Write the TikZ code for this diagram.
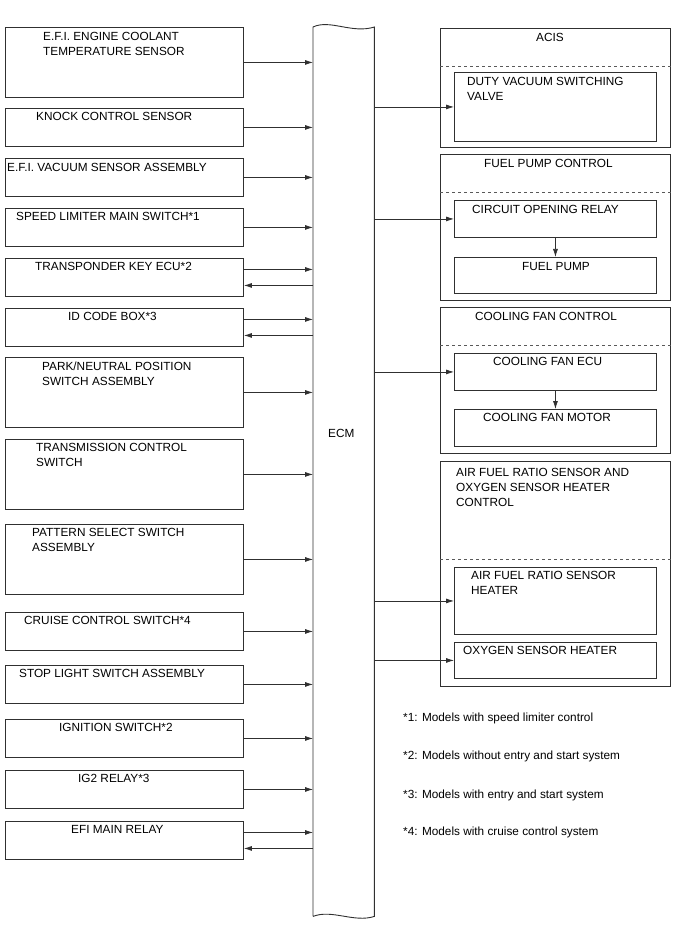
\documentclass[tikz,border=0pt]{standalone}
\usepackage{fontspec}
\setmainfont{Liberation Sans}
\usetikzlibrary{arrows.meta}
\definecolor{ECMLine}{HTML}{303030}

\tikzset{
  blk/.style={draw=ECMLine,line width=.9pt,inner sep=0,anchor=north west},
  inblk/.style={blk,minimum width=238pt},
  outblk/.style={blk,minimum width=230pt},
  subblk/.style={blk,minimum width=202pt},
  lbl/.style={anchor=north west,inner sep=0,align=left,font=\fontsize{11.8}{14.8}\selectfont},
  sig/.style={-{Latex[length=8pt,width=5pt]},line width=.75pt,draw=ECMLine},
  sep/.style={dashed,line width=.6pt,draw=ECMLine!80}
}

\begin{document}
\begin{tikzpicture}[x=1pt,y=-1pt]
\useasboundingbox (0,0) rectangle (688,949);
% ECM column
\node[draw=none,inner sep=0,anchor=north west,minimum width=61pt,minimum height=889pt] (ecm) at (313,27) {};
\draw[draw=ECMLine,line width=.9pt] (ecm.south west) -- (ecm.north west)
  .. controls (330,19) and (352,34) .. (ecm.north east) -- (ecm.south east)
  .. controls (354,923) and (332,909) .. (ecm.south west);
\node[lbl,anchor=west] (ecm-t) at (328,433) {ECM};

% inputs
\node[inblk,minimum height=70pt] (ect) at (5,27) {};
\node[lbl] (ect-t) at (43,32) {E.F.I. ENGINE COOLANT\\ TEMPERATURE SENSOR};
\node[inblk,minimum height=38pt] (kcs) at (5,108) {};
\node[lbl] (kcs-t) at (36,112) {KNOCK CONTROL SENSOR};
\node[inblk,minimum height=38pt] (vsa) at (5,158) {};
\node[lbl] (vsa-t) at (7,163) {E.F.I. VACUUM SENSOR ASSEMBLY};
\node[inblk,minimum height=38pt] (slm) at (5,208) {};
\node[lbl] (slm-t) at (16,212) {SPEED LIMITER MAIN SWITCH*1};
\node[inblk,minimum height=38pt] (tkey) at (5,258) {};
\node[lbl] (tkey-t) at (35,262) {TRANSPONDER KEY ECU*2};
\node[inblk,minimum height=38pt] (idb) at (5,308) {};
\node[lbl] (idb-t) at (68,312) {ID CODE BOX*3};
\node[inblk,minimum height=70pt] (pnp) at (5,357) {};
\node[lbl] (pnp-t) at (42,362) {PARK/NEUTRAL POSITION\\ SWITCH ASSEMBLY};
\node[inblk,minimum height=70pt] (tcs) at (5,439) {};
\node[lbl] (tcs-t) at (36,443) {TRANSMISSION CONTROL\\ SWITCH};
\node[inblk,minimum height=70pt] (pss) at (5,524) {};
\node[lbl] (pss-t) at (32,528) {PATTERN SELECT SWITCH\\ ASSEMBLY};
\node[inblk,minimum height=38pt] (ccs) at (5,612) {};
\node[lbl] (ccs-t) at (24,616) {CRUISE CONTROL SWITCH*4};
\node[inblk,minimum height=38pt] (sls) at (5,665) {};
\node[lbl] (sls-t) at (19,669) {STOP LIGHT SWITCH ASSEMBLY};
\node[inblk,minimum height=38pt] (igsw) at (5,719) {};
\node[lbl] (igsw-t) at (59,723) {IGNITION SWITCH*2};
\node[inblk,minimum height=38pt] (ig2) at (5,770) {};
\node[lbl] (ig2-t) at (78,774) {IG2 RELAY*3};
\node[inblk,minimum height=38pt] (efi) at (5,821) {};
\node[lbl] (efi-t) at (71,825) {EFI MAIN RELAY};

% input signals
\foreach \n in {ect,kcs,vsa,slm,pnp,tcs,pss,ccs,sls,igsw,ig2}
  \draw[sig] (\n.east) -- (\n.east -| ecm.west);
\foreach \n in {tkey,idb,efi}{
  \draw[sig] ([yshift=8pt]\n.east) -- ([yshift=8pt]\n.east -| ecm.west);
  \draw[sig] ([yshift=-8pt]\n.east -| ecm.west) -- ([yshift=-8pt]\n.east);
}

% outputs
\node[outblk,minimum height=119pt] (acis) at (440,28) {};
\node[lbl] (acis-t) at (536,33) {ACIS};
\draw[sep] (acis.west |- 0,66) -- (acis.east |- 0,66);
\node[subblk,minimum height=69pt] (dvsv) at (454,72) {};
\node[lbl] (dvsv-t) at (467,77) {DUTY VACUUM SWITCHING\\ VALVE};

\node[outblk,minimum height=146pt] (fpc) at (440,154) {};
\node[lbl] (fpc-t) at (484,159) {FUEL PUMP CONTROL};
\draw[sep] (fpc.west |- 0,192) -- (fpc.east |- 0,192);
\node[subblk,minimum height=37pt] (cor) at (454,200) {};
\node[lbl] (cor-t) at (472,205) {CIRCUIT OPENING RELAY};
\node[subblk,minimum height=36pt] (fp) at (454,257) {};
\node[lbl] (fp-t) at (522,262) {FUEL PUMP};

\node[outblk,minimum height=146pt] (cfc) at (440,307) {};
\node[lbl] (cfc-t) at (475,312) {COOLING FAN CONTROL};
\draw[sep] (cfc.west |- 0,345) -- (cfc.east |- 0,345);
\node[subblk,minimum height=37pt] (cfe) at (454,353) {};
\node[lbl] (cfe-t) at (493,357) {COOLING FAN ECU};
\node[subblk,minimum height=37pt] (cfm) at (454,409) {};
\node[lbl] (cfm-t) at (483,413) {COOLING FAN MOTOR};

\node[outblk,minimum height=225pt] (afc) at (440,461) {};
\node[lbl] (afc-t) at (456,468) {AIR FUEL RATIO SENSOR AND\\ OXYGEN SENSOR HEATER\\ CONTROL};
\draw[sep] (afc.west |- 0,559) -- (afc.east |- 0,559);
\node[subblk,minimum height=67pt] (afh) at (454,567) {};
\node[lbl] (afh-t) at (471,571) {AIR FUEL RATIO SENSOR\\ HEATER};
\node[subblk,minimum height=36pt] (oxh) at (454,642) {};
\node[lbl] (oxh-t) at (463,646) {OXYGEN SENSOR HEATER};

% output signals
\foreach \n in {dvsv,cor,cfe,afh,oxh}
  \draw[sig] (\n.west -| ecm.east) -- (\n.west);
\draw[sig] (cor.south) -- (fp.north);
\draw[sig] (cfe.south) -- (cfm.north);

% notes
\node[lbl,anchor=base west] (n1) at (403,721) {*1: Models with speed limiter control};
\node[lbl,anchor=base west] (n2) at (403,759) {*2: Models without entry and start system};
\node[lbl,anchor=base west] (n3) at (403,798) {*3: Models with entry and start system};
\node[lbl,anchor=base west] (n4) at (403,835) {*4: Models with cruise control system};
\end{tikzpicture}
\end{document}
